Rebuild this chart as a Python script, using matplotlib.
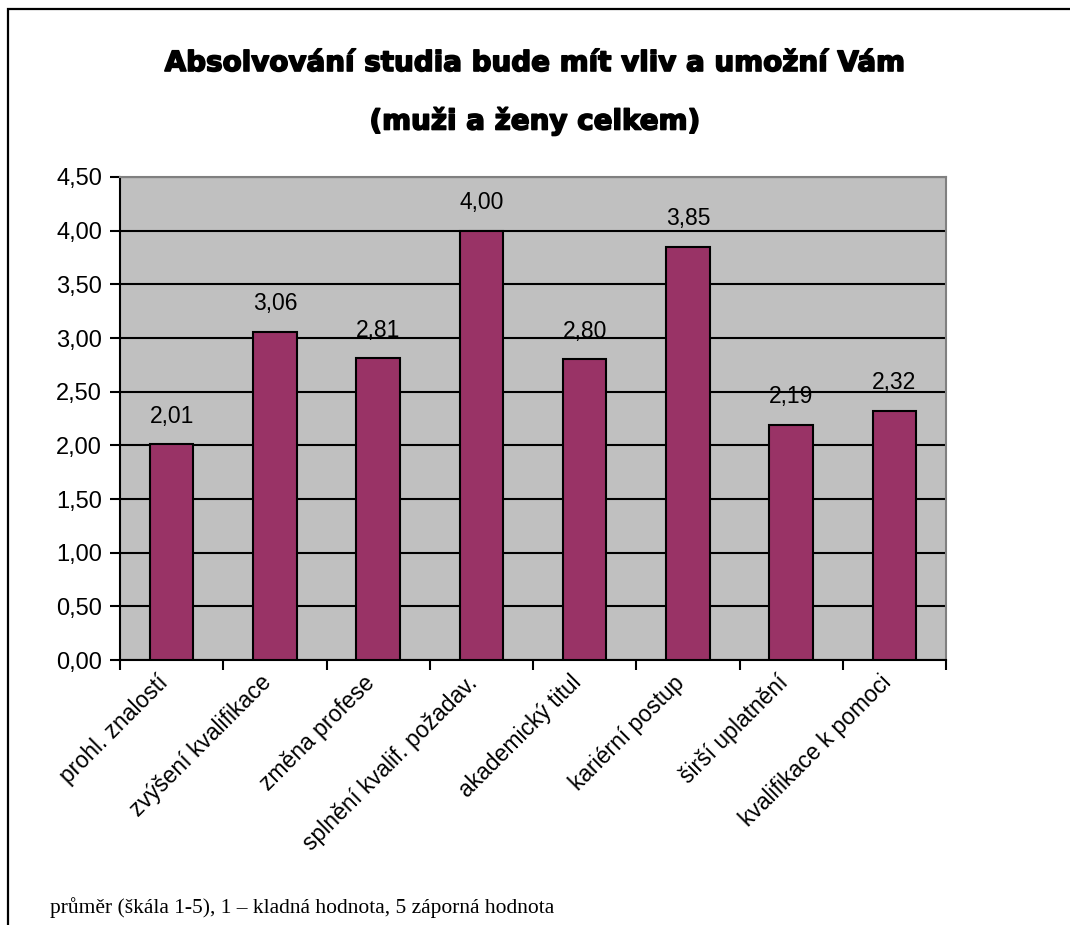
import numpy as np
import matplotlib.pyplot as plt
import matplotlib.patheffects as pe
from matplotlib.patches import Rectangle
from matplotlib.transforms import offset_copy

# Data
kategorie = ["prohl. znalostí", "zvýšení kvalifikace", "změna profese",
             "splnění kvalif. požadav.", "akademický titul", "kariérní postup",
             "širší uplatnění", "kvalifikace k pomoci"]
hodnoty = [2.01, 3.06, 2.81, 4.00, 2.80, 3.85, 2.19, 2.32]
y_ticks = [0.0, 0.5, 1.0, 1.5, 2.0, 2.5, 3.0, 3.5, 4.0, 4.5]

plt.rcParams['font.family'] = ['Liberation Sans', 'DejaVu Sans']

fig = plt.figure(figsize=(10.7, 9.25), dpi=100)
ax = fig.add_axes([120/1070, 1 - 660/925, 826/1070, 483/925])

# outer frame of the chart
fig.patches.append(Rectangle((8/1070, -0.1), 1.2, 1 - 9/925 + 0.1,
                             transform=fig.transFigure, fill=False,
                             edgecolor='black', linewidth=1.6))

x = np.arange(len(kategorie)) + 0.5
ax.set_facecolor('#C0C0C0')
ax.set_axisbelow(True)
ax.yaxis.grid(True, color='black', linewidth=1.5)
ax.bar(x, hodnoty, width=0.42, color='#993366', edgecolor='black', linewidth=1.5, zorder=3)

for xi, v in zip(x, hodnoty):
    ax.annotate(f"{v:.2f}".replace('.', ','), (xi, v), xytext=(0, 12),
                textcoords='offset points', ha='center', va='bottom', fontsize=16.5)

ax.set_xlim(0, len(kategorie))
ax.set_ylim(0, 4.5)
ax.set_yticks(y_ticks)
ax.set_yticklabels([f"{t:.2f}".replace('.', ',') for t in y_ticks], fontsize=17)
ax.tick_params(axis='y', length=7, width=1.5, direction='out', pad=6)

ax.set_xticks(x)
ax.set_xticklabels(kategorie, rotation=45, ha='right', va='top',
                   rotation_mode='anchor', fontsize=16.5)
ax.tick_params(axis='x', which='major', length=0, pad=8)
for lbl in ax.get_xticklabels():
    lbl.set_transform(offset_copy(lbl.get_transform(), fig=fig, x=-15, y=0, units='dots'))
ax.set_xticks(np.arange(len(kategorie) + 1), minor=True)
ax.tick_params(axis='x', which='minor', length=7, width=1.5, direction='out')

for s in ['left', 'bottom']:
    ax.spines[s].set_color('black')
    ax.spines[s].set_linewidth(1.5)
for s in ['top', 'right']:
    ax.spines[s].set_color('#808080')
    ax.spines[s].set_linewidth(1.5)

# heavy title (Arial Black look)
heavy = [pe.withStroke(linewidth=1.2, foreground='black')]
fig.text(0.5, 1 - 63/925, "Absolvování studia bude mít vliv a umožní Vám",
         ha='center', va='center', fontsize=20, fontweight='bold',
         family='DejaVu Sans', path_effects=heavy)
fig.text(0.5, 1 - 121/925, "(muži a ženy celkem)",
         ha='center', va='center', fontsize=20, fontweight='bold',
         family='DejaVu Sans', path_effects=heavy)

fig.text(50/1070, 1 - 908/925, "průměr (škála 1-5), 1 – kladná hodnota, 5 záporná hodnota",
         ha='left', va='center', fontsize=15.5, family='Liberation Serif')

fig.savefig('out.png', dpi=100)
